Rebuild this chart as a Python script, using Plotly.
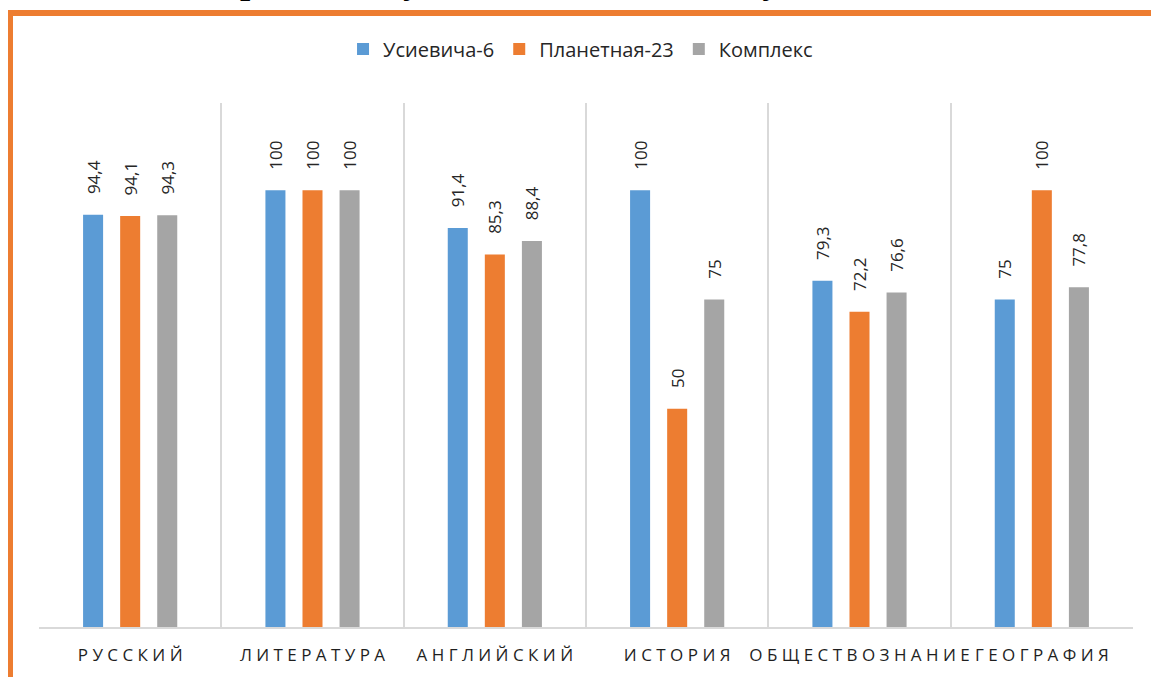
import plotly.graph_objects as go

categories = ["РУССКИЙ", "ЛИТЕРАТУРА", "АНГЛИЙСКИЙ", "ИСТОРИЯ", "ОБЩЕСТВОЗНАНИЕ", "ГЕОГРАФИЯ"]
series_names = ["Усиевича-6", "Планетная-23", "Комплекс"]
usievicha = [94.4, 100, 91.4, 100, 79.3, 75]
planetnaya = [94.1, 100, 85.3, 50, 72.2, 100]
kompleks = [94.3, 100, 88.4, 75, 76.6, 77.8]
title_text = "Процент обученности по итогам учебного года"

colors = ["#5B9BD5", "#ED7D31", "#A5A5A5"]
W, H = 1151, 677
ML, MR, MT, MB = 39, 18, 103, 50
PW, PH = W - ML - MR, H - MT - MB

def px(x):
    return (x - ML) / PW

def py(y):
    return (H - MB - y) / PH

tick_text = [" ".join(list(c)) for c in categories]
font = "Open Sans, Noto Sans, sans-serif"

fig = go.Figure()
for name, vals, col in zip(series_names, [usievicha, planetnaya, kompleks], colors):
    fig.add_trace(go.Bar(
        name=name, x=categories, y=vals, marker=dict(color=col, line=dict(width=0)),
        texttemplate="\u00a0\u00a0\u00a0\u00a0%{y}", textposition="outside", textangle=-90,
        constraintext="none", cliponaxis=False,
        textfont=dict(size=17, color="#262626", family=font),
    ))

shapes = [
    dict(type="rect", xref="paper", yref="paper", x0=px(8), x1=px(W + 5), y0=py(16), y1=py(10),
         fillcolor="#ED7D31", line=dict(width=0), layer="above"),
    dict(type="rect", xref="paper", yref="paper", x0=px(8), x1=px(13), y0=py(H + 5), y1=py(10),
         fillcolor="#ED7D31", line=dict(width=0), layer="above"),
]

fig.update_layout(
    width=W, height=H, margin=dict(l=ML, r=MR, t=MT, b=MB, pad=0, autoexpand=False),
    paper_bgcolor="white", plot_bgcolor="white",
    barmode="group", bargap=0.39, bargroupgap=0.46,
    separators=", ",
    font=dict(family=font, color="#262626"),
    showlegend=True,
    legend=dict(orientation="h", x=0.495, xanchor="center", y=py(49), yanchor="middle",
                font=dict(size=20, color="#262626"), itemwidth=30, traceorder="normal"),
    xaxis=dict(type="category", tickvals=categories, ticktext=tick_text, tickson="boundaries",
               showgrid=True, gridcolor="#D9D9D9", gridwidth=1.5, showline=True, linecolor="#D9D9D9",
               linewidth=1.5, ticks="", tickangle=0, automargin=False,
               tickfont=dict(size=17, color="#1F1F1F"), ticklabelstandoff=12,
               fixedrange=True),
    yaxis=dict(range=[0, 120], showgrid=False, showline=False, showticklabels=False, zeroline=False,
               ticks="", fixedrange=True, automargin=False),
    shapes=shapes,
    annotations=[dict(text="<b><i>" + title_text + "</i></b>", xref="paper", yref="paper",
                      x=px(212), xanchor="left", y=1, yanchor="bottom", yshift=MT - 3,
                      showarrow=False, font=dict(family="Liberation Serif, Times New Roman, serif",
                                                 size=36, color="black"))],
)

fig.write_html("out.html", config={"displayModeBar": False},
               post_script="document.body.style.margin='0';document.body.style.overflow='hidden';")
